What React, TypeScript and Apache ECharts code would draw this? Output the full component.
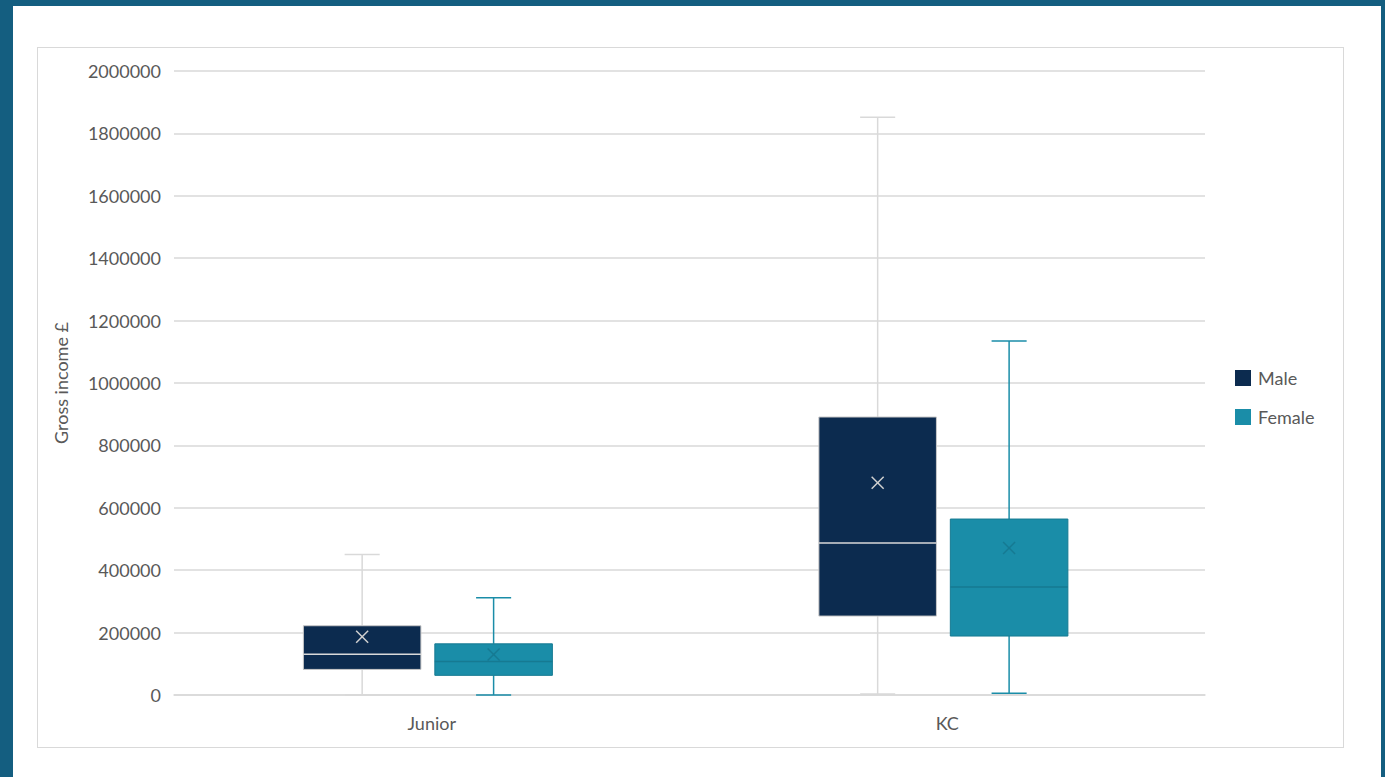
import React, { useEffect, useRef } from "react";
import * as echarts from "echarts";

const categories = ["Junior", "KC"];

const maleMin = [0, 3000];
const maleQ1 = [82000, 253000];
const maleMedian = [131000, 487000];
const maleQ3 = [222000, 891000];
const maleMax = [450000, 1852000];
const maleMean = [187000, 680000];

const femaleMin = [0, 6000];
const femaleQ1 = [63000, 189000];
const femaleMedian = [107000, 346000];
const femaleQ3 = [164000, 564000];
const femaleMax = [312000, 1135000];
const femaleMean = [130000, 471000];

const FONT = "Lato, 'Open Sans', sans-serif";

function buildData(mn: number[], q1: number[], med: number[], q3: number[], mx: number[], mean: number[]) {
  return categories.map((_, i) => [i, mn[i], q1[i], med[i], q3[i], mx[i], mean[i]]);
}

function makeRender(offsetFrac: number, fill: string, boxStroke: string, whisker: string, medColor: string, markColor: string) {
  return (params: any, api: any) => {
    const cat = api.value(0);
    const band = api.size([1, 0])[0];
    const cx = api.coord([cat, 0])[0] + band * offsetFrac;
    const w = band * 0.228;
    const cap = band * 0.068;
    const y = (v: number) => api.coord([cat, v])[1];
    const yMin = y(api.value(1));
    const yQ1 = y(api.value(2));
    const yMed = y(api.value(3));
    const yQ3 = y(api.value(4));
    const yMax = y(api.value(5));
    const yMean = y(api.value(6));
    const lw = 1.5;
    const m = 6;
    return {
      type: "group",
      children: [
        { type: "line", shape: { x1: cx, y1: yMin, x2: cx, y2: yQ1 }, style: { stroke: whisker, lineWidth: lw } },
        { type: "line", shape: { x1: cx, y1: yQ3, x2: cx, y2: yMax }, style: { stroke: whisker, lineWidth: lw } },
        { type: "line", shape: { x1: cx - cap / 2, y1: yMin, x2: cx + cap / 2, y2: yMin }, style: { stroke: whisker, lineWidth: lw } },
        { type: "line", shape: { x1: cx - cap / 2, y1: yMax, x2: cx + cap / 2, y2: yMax }, style: { stroke: whisker, lineWidth: lw } },
        { type: "rect", shape: { x: cx - w / 2, y: yQ3, width: w, height: yQ1 - yQ3 }, style: { fill, stroke: boxStroke, lineWidth: 1 } },
        { type: "line", shape: { x1: cx - w / 2, y1: yMed, x2: cx + w / 2, y2: yMed }, style: { stroke: medColor, lineWidth: lw } },
        { type: "line", shape: { x1: cx - m, y1: yMean - m, x2: cx + m, y2: yMean + m }, style: { stroke: markColor, lineWidth: lw } },
        { type: "line", shape: { x1: cx - m, y1: yMean + m, x2: cx + m, y2: yMean - m }, style: { stroke: markColor, lineWidth: lw } },
      ],
    };
  };
}

export default function App() {
  const ref = useRef<HTMLDivElement>(null);
  useEffect(() => {
    if (!ref.current) return;
    const chart = echarts.init(ref.current, undefined, { renderer: "svg" });
    chart.setOption({
      animation: false,
      textStyle: { fontFamily: FONT },
      grid: { left: 174, right: 180, top: 71, bottom: 82 },
      legend: {
        orient: "vertical",
        left: 1230,
        top: 364,
        itemWidth: 16,
        itemHeight: 16,
        itemGap: 21,
        icon: "rect",
        textStyle: { fontSize: 18, color: "#595959", fontFamily: FONT, padding: [0, 0, 0, 2] },
        data: ["Male", "Female"],
      },
      xAxis: {
        type: "category",
        data: categories,
        axisLine: { show: true, lineStyle: { color: "#d9d9d9", width: 1.5 } },
        axisTick: { show: false },
        axisLabel: { fontSize: 18, color: "#595959", margin: 19, fontFamily: FONT },
      },
      yAxis: {
        type: "value",
        min: 0,
        max: 2000000,
        interval: 200000,
        name: "Gross income £",
        nameLocation: "middle",
        nameGap: 104,
        nameRotate: 90,
        nameTextStyle: { fontSize: 18, color: "#595959", fontFamily: FONT },
        axisLine: { show: false },
        axisTick: { show: false },
        splitLine: { lineStyle: { color: "#d9d9d9", width: 1.5 } },
        axisLabel: { fontSize: 18, color: "#595959", margin: 13, fontFamily: FONT, formatter: (v: number) => String(v) },
      },
      series: [
        {
          name: "Male",
          type: "custom",
          itemStyle: { color: "#0c2b4f" },
          renderItem: makeRender(-0.135, "#0c2b4f", "#c8c8c8", "#d9d9d9", "#d9d9d9", "#d0d0d0"),
          encode: { x: 0, y: [1, 2, 3, 4, 5, 6] },
          data: buildData(maleMin, maleQ1, maleMedian, maleQ3, maleMax, maleMean),
        },
        {
          name: "Female",
          type: "custom",
          itemStyle: { color: "#1a8da8" },
          renderItem: makeRender(0.12, "#1a8da8", "#167a92", "#1a8da8", "#167a92", "#167a92"),
          encode: { x: 0, y: [1, 2, 3, 4, 5, 6] },
          data: buildData(femaleMin, femaleQ1, femaleMedian, femaleQ3, femaleMax, femaleMean),
        },
      ],
    });
    return () => chart.dispose();
  }, []);
  return (
    <div style={{ position: "absolute", left: 0, top: 0, width: 1385, height: 777, background: "#145e80", overflow: "hidden" }}>
      <div style={{ position: "absolute", left: 13, top: 6, width: 1368, height: 771, background: "#ffffff" }} />
      <div style={{ position: "absolute", left: 37, top: 47, width: 1305, height: 699, border: "1.5px solid #d9d9d9", background: "#ffffff" }} />
      <div ref={ref} style={{ position: "absolute", left: 0, top: 0, width: 1385, height: 777 }} />
    </div>
  );
}
